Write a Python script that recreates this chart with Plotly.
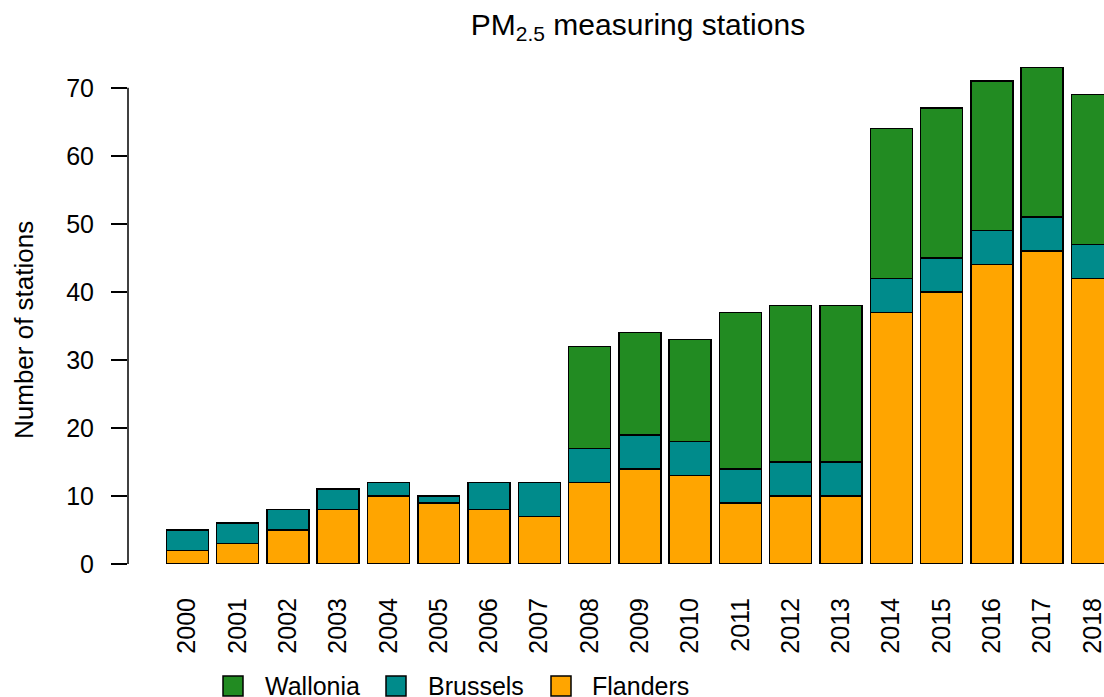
import plotly.graph_objects as go

years = [str(y) for y in range(2000, 2019)]
flanders = [2, 3, 5, 8, 10, 9, 8, 7, 12, 14, 13, 9, 10, 10, 37, 40, 44, 46, 42]
brussels = [3, 3, 3, 3, 2, 1, 4, 5, 5, 5, 5, 5, 5, 5, 5, 5, 5, 5, 5]
wallonia = [0, 0, 0, 0, 0, 0, 0, 0, 15, 15, 15, 23, 23, 23, 22, 22, 22, 22, 22]
ytick_vals = [0, 10, 20, 30, 40, 50, 60, 70]

FONT = "Liberation Sans, Arial, sans-serif"
COLORS = {"Flanders": "#FFA500", "Brussels": "#008B8B", "Wallonia": "#228B22"}
idx = list(range(len(years)))

W, H = 1104, 697
L, R, T, B = 128, 0, 47, 133
PW, PH = W - L - R, H - T - B


def px(x):
    return (x - L) / PW


def py(y):
    return (H - B - y) / PH


fig = go.Figure()
for name, vals in [("Flanders", flanders), ("Brussels", brussels), ("Wallonia", wallonia)]:
    fig.add_trace(go.Bar(x=idx, y=vals, name=name, showlegend=False,
                         marker=dict(color=COLORS[name], line=dict(color="black", width=1.5))))

# y axis line (only spans the ticks, as in the reference)
fig.add_shape(type="line", xref="paper", yref="y", x0=0, x1=0, y0=0, y1=70,
              line=dict(color="black", width=1.5))

# manual legend
legend_items = [("Wallonia", 223, 265), ("Brussels", 386, 428), ("Flanders", 551, 592)]
for name, sq_x, tx in legend_items:
    fig.add_shape(type="rect", xref="paper", yref="paper",
                  x0=px(sq_x), x1=px(sq_x + 20), y0=py(676), y1=py(696),
                  fillcolor=COLORS[name], line=dict(color="black", width=1.5))
    fig.add_annotation(text=name, xref="paper", yref="paper", x=px(tx - 2), y=py(686),
                       xanchor="left", yanchor="middle", showarrow=False,
                       font=dict(size=25, family=FONT, color="black"))

# y axis title
fig.add_annotation(text="Number of stations", xref="paper", yref="paper",
                   x=px(24), y=py(330), textangle=-90, xanchor="center", yanchor="middle",
                   showarrow=False, font=dict(size=26, family=FONT, color="black"))

fig.update_layout(
    width=W, height=H,
    barmode="stack", bargap=0.165,
    plot_bgcolor="white", paper_bgcolor="white",
    margin=dict(l=L, r=R, t=T, b=B),
    font=dict(family=FONT, size=25, color="black"),
    title=dict(text="PM<sub>2.5</sub> measuring stations", x=638 / W, xanchor="center",
               xref="container", yref="container", y=1 - 24 / H, yanchor="middle",
               font=dict(size=30)),
    xaxis=dict(range=[-1.18, 18.23], tickmode="array", tickvals=idx, ticktext=years,
               tickangle=-90, ticks="", showline=False, showgrid=False, zeroline=False,
               ticklabelstandoff=28, ticklabeloverflow="allow", automargin=False,
               tickfont=dict(size=25)),
    yaxis=dict(range=[0, 76], tickvals=ytick_vals, ticks="outside", ticklen=16,
               tickwidth=1.5, tickcolor="black", showline=False, showgrid=False,
               zeroline=False, automargin=False, ticklabelstandoff=12,
               tickfont=dict(size=25)),
    showlegend=False,
)

fig.write_html("out.html", config={"displayModeBar": False},
               post_script="document.body.style.margin='0';document.body.style.overflow='hidden';")
